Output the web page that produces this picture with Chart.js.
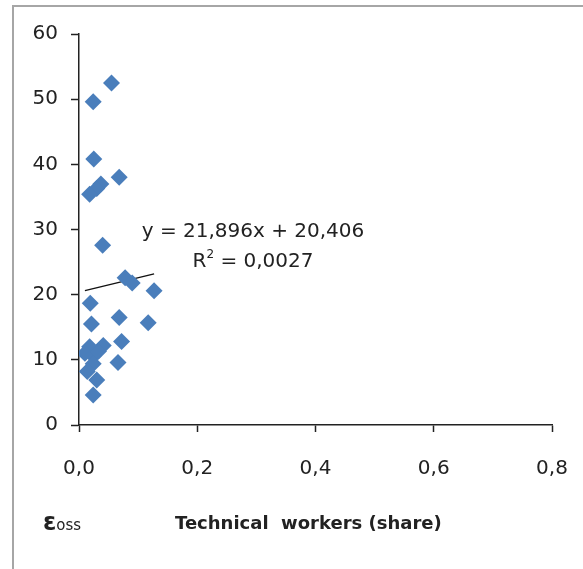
<!DOCTYPE html>
<html>
<head>
<meta charset="utf-8">
<script src="https://cdn.jsdelivr.net/npm/chart.js@4"></script>
<style>
  html, body { margin: 0; padding: 0; background: #fff; }
  #wrap { width: 583px; height: 569px; }
</style>
</head>
<body>
<div id="wrap"><canvas id="c" width="583" height="569"></canvas></div>
<script>
// Share of technical workers per observation
const techShare = [0.055, 0.024, 0.025, 0.068, 0.037, 0.030, 0.018, 0.040, 0.078, 0.090,
                   0.127, 0.019, 0.021, 0.068, 0.117, 0.072, 0.041, 0.018, 0.010, 0.024,
                   0.033, 0.066, 0.024, 0.014, 0.030, 0.024];
// Elasticity values (ε OSS)
const eossValues = [52.5, 49.6, 40.8, 38.0, 37.0, 36.3, 35.4, 27.6, 22.6, 21.8,
                    20.6, 18.7, 15.5, 16.5, 15.7, 12.8, 12.2, 12.0, 11.0, 10.6,
                    11.3, 9.6, 9.4, 8.2, 6.9, 4.6];
const xTickValues = [0, 0.2, 0.4, 0.6, 0.8];
const yTickValues = [0, 10, 20, 30, 40, 50, 60];
// Linear trendline coefficients
const trendSlope = 21.896;
const trendIntercept = 20.406;
const trendR2 = 0.0027;

const fmtComma = (v, d) => v.toFixed(d).replace('.', ',');

const xMin = Math.min(...techShare);
const xMax = Math.max(...techShare);
const trendPoints = [
  { x: xMin, y: trendSlope * xMin + trendIntercept },
  { x: xMax, y: trendSlope * xMax + trendIntercept }
];

const FONT = '"DejaVu Sans", sans-serif';
const AXIS = '#222';

const decor = {
  id: 'decor',
  beforeDraw(chart) {
    const ctx = chart.ctx;
    ctx.save();
    ctx.fillStyle = '#fff';
    ctx.fillRect(0, 0, chart.width, chart.height);
    ctx.restore();
  },
  afterDraw(chart) {
    const ctx = chart.ctx;
    ctx.save();
    // outer frame
    ctx.strokeStyle = '#a6a6a6';
    ctx.lineWidth = 2;
    ctx.beginPath();
    ctx.moveTo(13, chart.height);
    ctx.lineTo(13, 6);
    ctx.lineTo(chart.width, 6);
    ctx.stroke();

    // trendline equation
    const cx = 253;
    ctx.fillStyle = '#222';
    ctx.textAlign = 'center';
    ctx.textBaseline = 'middle';
    ctx.font = '20px ' + FONT;
    ctx.fillText('y = ' + fmtComma(trendSlope, 3) + 'x + ' + fmtComma(trendIntercept, 3), cx, 232);
    const r2Text = ' = ' + fmtComma(trendR2, 4);
    const wR = ctx.measureText('R').width;
    ctx.font = '12px ' + FONT;
    const w2 = ctx.measureText('2').width;
    ctx.font = '20px ' + FONT;
    const wRest = ctx.measureText(r2Text).width;
    const total = wR + w2 + wRest;
    const x0 = cx - total / 2;
    ctx.textAlign = 'left';
    ctx.fillText('R', x0, 262);
    ctx.font = '12px ' + FONT;
    ctx.fillText('2', x0 + wR, 255);
    ctx.font = '20px ' + FONT;
    ctx.fillText(r2Text, x0 + wR + w2, 262);

    // axis captions
    ctx.textBaseline = 'alphabetic';
    ctx.font = 'bold 24px ' + FONT;
    ctx.fillText('\u03B5', 43, 530);
    const we = ctx.measureText('\u03B5').width;
    ctx.font = '15px ' + FONT;
    ctx.fillText('oss', 43 + we, 530);
    ctx.font = 'bold 18px ' + FONT;
    ctx.fillText('Technical  workers (share)', 175, 529);
    ctx.restore();
  }
};

new Chart(document.getElementById('c'), {
  data: {
    datasets: [
      {
        type: 'scatter',
        data: techShare.map((x, i) => ({ x, y: eossValues[i] })),
        pointStyle: 'rectRot',
        pointRadius: 8.5,
        pointHoverRadius: 8.5,
        backgroundColor: '#4A7EBB',
        borderColor: '#4A7EBB',
        borderWidth: 0
      },
      {
        type: 'line',
        data: trendPoints,
        borderColor: '#111',
        borderWidth: 1.3,
        pointRadius: 0,
        fill: false
      }
    ]
  },
  options: {
    responsive: false,
    animation: false,
    events: [],
    layout: { padding: { top: 34, right: 31, left: 0, bottom: 44 } },
    plugins: { legend: { display: false }, tooltip: { enabled: false } },
    scales: {
      x: {
        type: 'linear',
        min: 0,
        max: 0.8,
        afterBuildTicks: s => { s.ticks = xTickValues.map(v => ({ value: v })); },
        afterFit: s => { s.height = 100; s.paddingLeft = 0; s.paddingRight = 0; },
        ticks: {
          callback: v => fmtComma(v, 1),
          font: { family: FONT, size: 20 },
          color: AXIS,
          padding: 25,
          maxRotation: 0
        },
        grid: { drawOnChartArea: false, drawTicks: true, tickLength: 7, tickColor: AXIS, tickWidth: 1.5 },
        border: { color: AXIS, width: 1.5 }
      },
      y: {
        type: 'linear',
        min: 0,
        max: 60,
        afterBuildTicks: s => { s.ticks = yTickValues.map(v => ({ value: v })); },
        afterFit: s => { s.width = 79; s.paddingTop = 0; s.paddingBottom = 0; },
        ticks: {
          font: { family: FONT, size: 20 },
          color: AXIS,
          padding: 13
        },
        grid: { drawOnChartArea: false, drawTicks: true, tickLength: 8, tickColor: AXIS, tickWidth: 1.5 },
        border: { color: AXIS, width: 1.5 }
      }
    }
  },
  plugins: [decor]
});
</script>
</body>
</html>
